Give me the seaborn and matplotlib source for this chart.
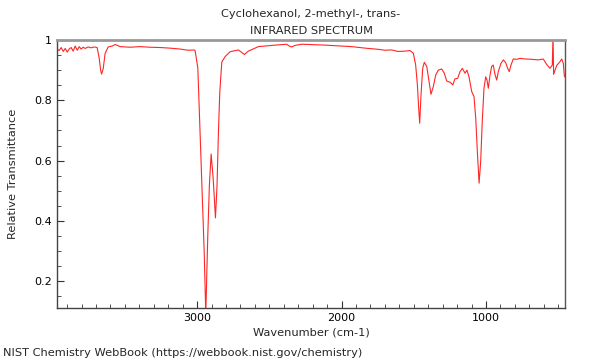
import numpy as np
import pandas as pd
import matplotlib
matplotlib.use("Agg")
import matplotlib.pyplot as plt
import seaborn as sns
from matplotlib.ticker import MultipleLocator, FuncFormatter

# spectrum (wavenumber in cm-1, relative transmittance)
wavenumber = [3969, 3955, 3941, 3927, 3913, 3899, 3886, 3872, 3858, 3844,
              3830, 3816, 3803, 3789, 3775, 3754, 3733, 3713, 3692, 3678,
              3668, 3661, 3650, 3637, 3616, 3588, 3567, 3533, 3464, 3395,
              3325, 3256, 3188, 3118, 3062, 3021, 3014, 2995, 2979, 2963,
              2951, 2940, 2926, 2915, 2903, 2889, 2873, 2862, 2853, 2843,
              2829, 2806, 2772, 2714, 2673, 2645, 2576, 2460, 2379, 2363,
              2345, 2322, 2275, 2114, 1929, 1837, 1745, 1699, 1653, 1609,
              1561, 1526, 1503, 1487, 1475, 1466, 1459, 1450, 1438, 1427,
              1410, 1394, 1381, 1365, 1348, 1330, 1307, 1289, 1272, 1249,
              1230, 1215, 1196, 1180, 1164, 1145, 1132, 1118, 1099, 1083,
              1071, 1060, 1048, 1037, 1026, 1014, 1002, 993, 984, 972,
              961, 950, 938, 926, 915, 896, 880, 864, 850, 839,
              827, 811, 788, 765, 730, 684, 638, 604, 580, 557,
              541, 536, 532, 511, 488, 476, 465, 457]
transmittance = [0.970, 0.965, 0.975, 0.962, 0.972, 0.960, 0.970, 0.975, 0.963, 0.980,
                 0.966, 0.978, 0.970, 0.976, 0.972, 0.977, 0.974, 0.977, 0.975, 0.940,
                 0.900, 0.887, 0.905, 0.955, 0.977, 0.980, 0.985, 0.978, 0.976, 0.978,
                 0.976, 0.975, 0.973, 0.970, 0.966, 0.967, 0.965, 0.907, 0.685, 0.463,
                 0.297, 0.090, 0.353, 0.519, 0.622, 0.542, 0.410, 0.519, 0.685, 0.828,
                 0.927, 0.945, 0.961, 0.967, 0.952, 0.963, 0.978, 0.983, 0.986, 0.980,
                 0.977, 0.982, 0.986, 0.983, 0.978, 0.973, 0.969, 0.966, 0.967, 0.962,
                 0.963, 0.965, 0.956, 0.917, 0.851, 0.773, 0.724, 0.818, 0.907, 0.926,
                 0.912, 0.862, 0.820, 0.845, 0.884, 0.900, 0.904, 0.890, 0.864, 0.860,
                 0.851, 0.871, 0.873, 0.895, 0.906, 0.890, 0.900, 0.878, 0.829, 0.812,
                 0.740, 0.630, 0.525, 0.596, 0.729, 0.840, 0.878, 0.867, 0.840, 0.884,
                 0.912, 0.917, 0.886, 0.867, 0.895, 0.923, 0.934, 0.925, 0.906, 0.895,
                 0.917, 0.937, 0.936, 0.939, 0.937, 0.936, 0.934, 0.937, 0.919, 0.906,
                 0.917, 1.020, 0.886, 0.915, 0.928, 0.937, 0.923, 0.878]

df = pd.DataFrame({"wavenumber": wavenumber, "transmittance": transmittance})

sns.set_style("ticks")
plt.rcParams["font.family"] = ["DejaVu Sans"]

fig = plt.figure(figsize=(6, 3.6), dpi=100)
ax = fig.add_axes([0.095, 0.1444, 0.8467, 0.7445])

sns.lineplot(data=df, x="wavenumber", y="transmittance", ax=ax,
             color="red", lw=0.8, alpha=0.85, sort=False)

ax.set_xlim(3970, 453)
ax.set_ylim(0.111, 1.0)
ax.xaxis.set_major_locator(MultipleLocator(1000))
ax.xaxis.set_minor_locator(MultipleLocator(100))
ax.yaxis.set_major_locator(MultipleLocator(0.2))
ax.yaxis.set_minor_locator(MultipleLocator(0.05))
ax.yaxis.set_major_formatter(FuncFormatter(lambda v, p: "1" if abs(v - 1) < 1e-6 else f"{v:.1f}"))
ax.tick_params(which="both", direction="in", labelsize=8, colors="#333333",
               labelcolor="black")
ax.tick_params(which="major", length=5)
ax.tick_params(which="minor", length=3)

for s in ["left", "bottom"]:
    ax.spines[s].set_color("#444444")
    ax.spines[s].set_linewidth(1.0)
ax.spines["top"].set_color("#999999")
ax.spines["top"].set_linewidth(2.0)
ax.spines["right"].set_color("#555555")
ax.spines["right"].set_linewidth(1.0)

ax.set_xlabel("Wavenumber (cm-1)", fontsize=8.2, labelpad=3)
ax.set_ylabel("Relative Transmittance", fontsize=8.2, labelpad=12)
ax.set_title("Cyclohexanol, 2-methyl-, trans-\nINFRARED SPECTRUM", fontsize=8.2, pad=4,
             linespacing=1.95)
fig.text(0.005, 0.005, "NIST Chemistry WebBook (https://webbook.nist.gov/chemistry)",
         fontsize=8.2, ha="left", va="bottom")

fig.savefig("out.png", dpi=100)
